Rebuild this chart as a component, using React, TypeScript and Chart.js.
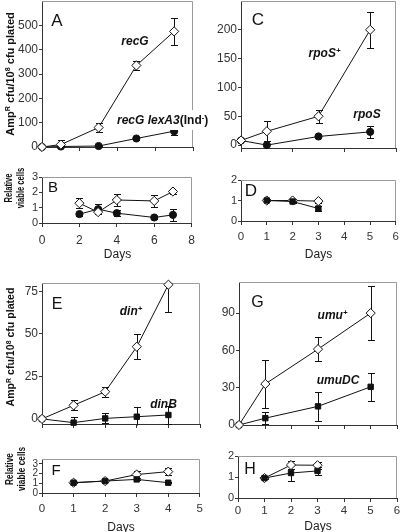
import React, { useEffect, useRef } from "react";
import { Chart, registerables } from "chart.js";

Chart.register(...registerables);

// ---------- Panel A: AmpR mutants, recG vs recG lexA3(Ind-) ----------
const daysA = [0, 1, 3, 5, 7];
const recG = [0, 10, 80, 335, 475];
const recGErr = [0, 18, 17, 18, 55];
const recGLexA3 = [0, 2, 4, 35, 65];
const recGLexA3Err = [0, 4, 2, 5, 15];
const xTicksA = [0, 2, 4, 6, 8];
const yTicksA = [0, 100, 200, 300, 400, 500];

// ---------- Panel B: relative viable cells ----------
const daysB = [2, 3, 4, 6, 7];
const viableRecG = [1.29, 0.71, 1.5, 1.44, 2.05];
const viableRecGErr = [0.32, 0.1, 0.42, 0.38, 0.13];
const viableRecGLexA3 = [0.58, 0.9, 0.64, 0.36, 0.53];
const viableRecGLexA3Err = [0.1, 0.32, 0.2, 0.08, 0.4];
const xTicksB = [0, 2, 4, 6, 8];
const yTicksB = [0, 1, 2, 3];

// ---------- Panel C: rpoS+ vs rpoS ----------
const daysC = [0, 1, 3, 5];
const rpoSPlus = [8, 24, 50, 200];
const rpoSPlusErr = [0, 17, 11, 31];
const rpoS = [8, 0, 15, 23];
const rpoSErr = [0, 0, 0, 11];
const xTicksC = [0, 2, 4, 6];
const yTicksC = [0, 50, 100, 150, 200];

// ---------- Panel D ----------
const daysD = [1, 2, 3];
const viableRpoSPlus = [1, 1, 0.97];
const viableRpoSPlusErr = [0.04, 0.08, 0.1];
const viableRpoS = [1, 0.95, 0.61];
const viableRpoSErr = [0.04, 0.05, 0.1];
const xTicksD = [0, 1, 2, 3, 4, 5, 6];
const yTicksD = [0, 1, 2];

// ---------- Panel E: din+ vs dinB ----------
const daysE = [0, 1, 2, 3, 4];
const dinPlus = [0, 8, 16, 42.5, 79];
const dinPlusErr = [0, 3, 3, 7.3, 16];
const dinB = [0, -2.2, 0.3, 1.3, 2.3];
const dinBErr = [0, 3.5, 3, 5.5, 5.2];
const xTicksE = [0, 1, 2, 3, 4, 5];
const yTicksE = [0, 25, 50, 75];

// ---------- Panel F ----------
const daysF = [1, 2, 3, 4];
const viableDinPlus = [1.06, 1.23, 1.9, 2.2];
const viableDinPlusErr = [0.05, 0.1, 0.4, 0.35];
const viableDinB = [1.06, 1.23, 1.4, 1.06];
const viableDinBErr = [0.05, 0.08, 0.1, 0.05];
const xTicksF = [0, 1, 2, 3, 4, 5];
const yTicksF = [0, 1, 2, 3];

// ---------- Panel G: umu+ vs umuDC ----------
const daysG = [0, 1, 3, 5];
const umuPlus = [0, 33, 61, 90];
const umuPlusErr = [0, 19, 9.5, 22];
const umuDC = [0, 5.5, 15, 30.7];
const umuDCErr = [0, 5, 11.6, 11.3];
const xTicksG = [0, 1, 2, 3, 4, 5, 6];
const yTicksG = [0, 30, 60, 90];

// ---------- Panel H ----------
const daysH = [1, 2, 3];
const viableUmuPlus = [0.95, 1.57, 1.56];
const viableUmuPlusErr = [0.03, 0.2, 0.17];
const viableUmuDC = [0.95, 1.19, 1.29];
const viableUmuDCErr = [0.03, 0.36, 0.18];
const xTicksH = [0, 1, 2, 3, 4, 5, 6];
const yTicksH = [0, 1, 2];

// ---------- styling ----------
const FONT = '"Liberation Sans", Arial, Helvetica, sans-serif';
const AXIS = "#333";
const FRAME = "#9a9a9a";
const INK = "#111";
const TICK_COLOR = "#333";
const YW = 34;
const PR = 8;
const PT = 10;
const XH = 28;
const CAP = 3.5;

type MarkStyle = "open" | "circle" | "square";
type Series = { x: number[]; y: number[]; err: number[]; mark: MarkStyle };
type Rect = { l: number; r: number; t: number; b: number };
type Panel = {
  id: string;
  rect: Rect;
  xRange: [number, number];
  xTicks: number[];
  xLabels: boolean;
  xPad: number;
  xFont: number;
  yRange: [number, number];
  yTicks: number[];
  yFont: number;
  series: Series[];
};

const panels: Panel[] = [
  {
    id: "A", rect: { l: 42, r: 193, t: 1, b: 147 },
    xRange: [0, 8], xTicks: xTicksA, xLabels: false, xPad: 0, xFont: 12,
    yRange: [0, 600], yTicks: yTicksA, yFont: 12,
    series: [
      { x: daysA, y: recG, err: recGErr, mark: "open" },
      { x: daysA, y: recGLexA3, err: recGLexA3Err, mark: "circle" },
    ],
  },
  {
    id: "B", rect: { l: 42, r: 193, t: 177, b: 223 },
    xRange: [0, 8], xTicks: xTicksB, xLabels: true, xPad: 6, xFont: 12,
    yRange: [0, 3], yTicks: yTicksB, yFont: 11,
    series: [
      { x: daysB, y: viableRecG, err: viableRecGErr, mark: "open" },
      { x: daysB, y: viableRecGLexA3, err: viableRecGLexA3Err, mark: "circle" },
    ],
  },
  {
    id: "C", rect: { l: 241, r: 396, t: 1, b: 148 },
    xRange: [0, 6], xTicks: xTicksC, xLabels: false, xPad: 0, xFont: 12,
    yRange: [-5, 250], yTicks: yTicksC, yFont: 12,
    series: [
      { x: daysC, y: rpoSPlus, err: rpoSPlusErr, mark: "open" },
      { x: daysC, y: rpoS, err: rpoSErr, mark: "circle" },
    ],
  },
  {
    id: "D", rect: { l: 241, r: 396, t: 180, b: 221 },
    xRange: [0, 6], xTicks: xTicksD, xLabels: true, xPad: 5, xFont: 11.5,
    yRange: [0, 2], yTicks: yTicksD, yFont: 11,
    series: [
      { x: daysD, y: viableRpoS, err: viableRpoSErr, mark: "square" },
      { x: daysD, y: viableRpoSPlus, err: viableRpoSPlusErr, mark: "open" },
    ],
  },
  {
    id: "E", rect: { l: 42, r: 200, t: 283, b: 424 },
    xRange: [0, 5], xTicks: xTicksE, xLabels: false, xPad: 0, xFont: 12,
    yRange: [-3, 80], yTicks: yTicksE, yFont: 12,
    series: [
      { x: daysE, y: dinPlus, err: dinPlusErr, mark: "open" },
      { x: daysE, y: dinB, err: dinBErr, mark: "square" },
    ],
  },
  {
    id: "F", rect: { l: 42, r: 200, t: 459, b: 493 },
    xRange: [0, 5], xTicks: xTicksF, xLabels: true, xPad: 5, xFont: 11.5,
    yRange: [0, 3.5], yTicks: yTicksF, yFont: 10,
    series: [
      { x: daysF, y: viableDinB, err: viableDinBErr, mark: "square" },
      { x: daysF, y: viableDinPlus, err: viableDinPlusErr, mark: "open" },
    ],
  },
  {
    id: "G", rect: { l: 239, r: 397, t: 282, b: 425 },
    xRange: [0, 6], xTicks: xTicksG, xLabels: false, xPad: 0, xFont: 12,
    yRange: [0, 115], yTicks: yTicksG, yFont: 12,
    series: [
      { x: daysG, y: umuPlus, err: umuPlusErr, mark: "open" },
      { x: daysG, y: umuDC, err: umuDCErr, mark: "square" },
    ],
  },
  {
    id: "H", rect: { l: 238, r: 397, t: 456, b: 498 },
    xRange: [0, 6], xTicks: xTicksH, xLabels: true, xPad: 2, xFont: 11.5,
    yRange: [0, 2], yTicks: yTicksH, yFont: 11,
    series: [
      { x: daysH, y: viableUmuDC, err: viableUmuDCErr, mark: "square" },
      { x: daysH, y: viableUmuPlus, err: viableUmuPlusErr, mark: "open" },
    ],
  },
];

const framePlugin = {
  id: "frame",
  beforeDatasetsDraw(chart: any) {
    const { ctx, chartArea: a } = chart;
    const top = Math.round(a.top) + 0.5;
    const right = Math.round(a.right) - 0.5;
    const left = Math.round(a.left);
    const bottom = Math.round(a.bottom);
    ctx.save();
    ctx.strokeStyle = FRAME;
    ctx.lineWidth = 1;
    ctx.beginPath();
    ctx.moveTo(left, top);
    ctx.lineTo(right, top);
    ctx.lineTo(right, bottom);
    ctx.stroke();
    ctx.restore();
  },
};

const errorBarsPlugin = {
  id: "errorBars",
  beforeDatasetsDraw(chart: any) {
    const { ctx, chartArea: a } = chart;
    const xs = chart.scales.x;
    const ys = chart.scales.y;
    ctx.save();
    ctx.beginPath();
    ctx.rect(a.left - 8, a.top - 0.5, a.right - a.left + 16, a.bottom - a.top + 2);
    ctx.clip();
    ctx.strokeStyle = INK;
    ctx.lineWidth = 1;
    chart.data.datasets.forEach((ds: any) => {
      const errs: number[] = ds.errorBars || [];
      ds.data.forEach((pt: any, i: number) => {
        const e = errs[i];
        if (!e) return;
        const px = Math.round(xs.getPixelForValue(pt.x)) + 0.5;
        const y1 = Math.round(ys.getPixelForValue(pt.y + e)) + 0.5;
        const y2 = Math.round(ys.getPixelForValue(pt.y - e)) + 0.5;
        ctx.beginPath();
        ctx.moveTo(px, y1);
        ctx.lineTo(px, y2);
        ctx.moveTo(px - CAP, y1);
        ctx.lineTo(px + CAP, y1);
        ctx.moveTo(px - CAP, y2);
        ctx.lineTo(px + CAP, y2);
        ctx.stroke();
      });
    });
    ctx.restore();
  },
};

function markProps(m: MarkStyle) {
  if (m === "open")
    return { pointStyle: "rectRot", pointRadius: 4.6, pointBackgroundColor: "#fff" };
  if (m === "circle")
    return { pointStyle: "circle", pointRadius: 3.6, pointBackgroundColor: INK };
  return { pointStyle: "rect", pointRadius: 3.8, pointBackgroundColor: INK };
}

function PanelChart({ p }: { p: Panel }) {
  const ref = useRef<HTMLCanvasElement | null>(null);
  const W = p.rect.r - p.rect.l + YW + PR;
  const H = p.rect.b - p.rect.t + PT + XH;

  useEffect(() => {
    if (!ref.current) return;
    const chart = new Chart(ref.current, {
      type: "line",
      data: {
        datasets: p.series.map((s) => ({
          data: s.x.map((x, i) => ({ x, y: s.y[i] })),
          errorBars: s.err,
          borderColor: INK,
          borderWidth: 1,
          pointBorderColor: INK,
          pointBorderWidth: 1,
          tension: 0,
          fill: false,
          clip: false,
          ...markProps(s.mark),
        })) as any,
      },
      options: {
        responsive: false,
        animation: false,
        events: [],
        layout: { padding: { left: 0, right: PR, top: PT, bottom: 0 } },
        plugins: { legend: { display: false }, tooltip: { enabled: false } },
        scales: {
          x: {
            type: "linear",
            min: p.xRange[0],
            max: p.xRange[1],
            afterBuildTicks: (axis: any) => {
              axis.ticks = p.xTicks.map((v) => ({ value: v }));
            },
            afterFit: (s: any) => {
              s.height = XH;
            },
            grid: { drawOnChartArea: false, drawTicks: true, tickLength: 4, color: AXIS, lineWidth: 1 },
            border: { display: true, color: AXIS, width: 1 },
            ticks: {
              display: p.xLabels,
              padding: p.xPad,
              color: TICK_COLOR,
              font: { family: FONT, size: p.xFont },
              maxRotation: 0,
              autoSkip: false,
            },
          },
          y: {
            type: "linear",
            min: p.yRange[0],
            max: p.yRange[1],
            afterBuildTicks: (axis: any) => {
              axis.ticks = p.yTicks.map((v) => ({ value: v }));
            },
            afterFit: (s: any) => {
              s.width = YW;
            },
            grid: { drawOnChartArea: false, drawTicks: true, tickLength: 3, color: AXIS, lineWidth: 1 },
            border: { display: true, color: AXIS, width: 1 },
            ticks: {
              padding: 1,
              color: TICK_COLOR,
              font: { family: FONT, size: p.yFont },
              autoSkip: false,
            },
          },
        },
      } as any,
      plugins: [framePlugin, errorBarsPlugin],
    });
    return () => chart.destroy();
  }, [p]);

  return (
    <canvas
      ref={ref}
      width={W}
      height={H}
      style={{
        position: "absolute",
        left: p.rect.l - YW,
        top: p.rect.t - PT,
        width: W,
        height: H,
      }}
    />
  );
}

const base: React.CSSProperties = {
  position: "absolute",
  fontFamily: FONT,
  color: INK,
  whiteSpace: "nowrap",
  lineHeight: "normal",
};

const supStyle: React.CSSProperties = {
  fontSize: "0.65em",
  verticalAlign: "0.5em",
  lineHeight: 0,
};

function Centered({ x, y, style, children }: { x: number; y: number; style?: React.CSSProperties; children: React.ReactNode }) {
  return (
    <div style={{ ...base, left: x, top: y, transform: "translate(-50%, -50%)", ...style }}>
      {children}
    </div>
  );
}

function YTitleAmp({ x, y, size }: { x: number; y: number; size: number }) {
  return (
    <div
      style={{
        ...base,
        left: x,
        top: y,
        fontWeight: "bold",
        fontSize: size,
        transform: "translate(-50%, -50%) rotate(-90deg)",
      }}
    >
      Amp<sup style={supStyle}>R</sup> cfu/10<sup style={supStyle}>8</sup> cfu plated
    </div>
  );
}

function YTitleViable({ x, y, squeeze }: { x: number; y: number; squeeze: number }) {
  return (
    <div
      style={{
        ...base,
        left: x,
        top: y,
        fontWeight: "bold",
        fontSize: 11.5,
        lineHeight: "12px",
        textAlign: "center",
        transform: `translate(-50%, -50%) rotate(-90deg) scaleX(${squeeze})`,
      }}
    >
      Relative
      <br />
      viable cells
    </div>
  );
}

const seriesLabel: React.CSSProperties = {
  fontWeight: "bold",
  fontStyle: "italic",
  fontSize: 12,
};

const letter: React.CSSProperties = { fontSize: 16 };
const daysStyle: React.CSSProperties = { fontSize: 12, color: "#222" };

export default function App() {
  return (
    <div
      style={{
        position: "absolute",
        left: 0,
        top: 0,
        width: 400,
        height: 532,
        overflow: "hidden",
        background: "#fff",
      }}
    >
      {panels.map((p) => (
        <PanelChart key={p.id} p={p} />
      ))}

      {/* axis titles */}
      <YTitleAmp x={10} y={74} size={11} />
      <YTitleAmp x={10} y={347} size={10.6} />
      <YTitleViable x={14} y={188} squeeze={0.66} />
      <YTitleViable x={15} y={469} squeeze={0.72} />

      <Centered x={117.5} y={254} style={daysStyle}>Days</Centered>
      <Centered x={318.5} y={254} style={daysStyle}>Days</Centered>
      <Centered x={121} y={527} style={daysStyle}>Days</Centered>
      <Centered x={318} y={526} style={daysStyle}>Days</Centered>

      {/* panel letters */}
      <Centered x={57} y={21} style={{ fontSize: 17 }}>A</Centered>
      <Centered x={53} y={186} style={{ fontSize: 15 }}>B</Centered>
      <Centered x={258} y={20} style={{ fontSize: 17 }}>C</Centered>
      <Centered x={251} y={190.5} style={{ fontSize: 17 }}>D</Centered>
      <Centered x={57} y={303.5} style={letter}>E</Centered>
      <Centered x={56} y={469} style={{ fontSize: 15 }}>F</Centered>
      <Centered x={257.5} y={302} style={letter}>G</Centered>
      <Centered x={250} y={468.5} style={letter}>H</Centered>

      {/* series labels */}
      <Centered x={135} y={41} style={seriesLabel}>recG</Centered>
      <div
        style={{
          ...base,
          ...seriesLabel,
          left: 117,
          top: 120,
          transform: "translateY(-50%)",
          background: "#fff",
          padding: "3px 0",
        }}
      >
        recG lexA3<span style={{ fontStyle: "normal" }}>(Ind<sup style={supStyle}>-</sup>)</span>
      </div>
      <Centered x={324.5} y={53} style={seriesLabel}>
        rpoS<sup style={supStyle}>+</sup>
      </Centered>
      <Centered x={367} y={114} style={seriesLabel}>rpoS</Centered>
      <Centered x={131} y={311} style={seriesLabel}>
        din<sup style={supStyle}>+</sup>
      </Centered>
      <Centered x={163.5} y={404} style={seriesLabel}>dinB</Centered>
      <Centered x={332.5} y={315} style={seriesLabel}>
        umu<sup style={supStyle}>+</sup>
      </Centered>
      <Centered x={338} y={380} style={seriesLabel}>umuDC</Centered>
    </div>
  );
}
